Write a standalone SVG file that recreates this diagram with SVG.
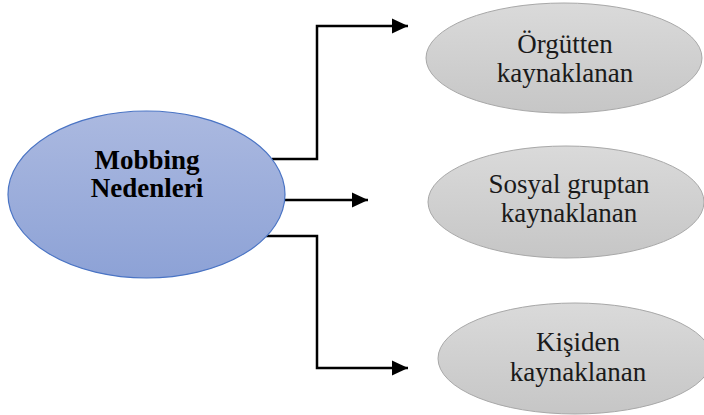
<svg xmlns="http://www.w3.org/2000/svg" width="704" height="415" viewBox="0 0 704 415">
<defs>
<linearGradient id="gBlue" x1="0" y1="0" x2="0" y2="1">
<stop offset="0" stop-color="#abb9e0"/>
<stop offset="1" stop-color="#8da2d6"/>
</linearGradient>
<linearGradient id="gGray" x1="0" y1="0" x2="0" y2="1">
<stop offset="0" stop-color="#dadada"/>
<stop offset="1" stop-color="#c6c6c6"/>
</linearGradient>
<marker id="arr" markerUnits="userSpaceOnUse" markerWidth="16" markerHeight="16" refX="16" refY="8" orient="auto">
<path d="M0,0.5 L16,8 L0,15.5 Z" fill="#000"/>
</marker>
</defs>
<style>
.main{fill:url(#gBlue);stroke:#4a74c4;stroke-width:1.2}
.leaf{fill:url(#gGray);stroke:#a8a8a8;stroke-width:1}
.conn{fill:none;stroke:#000;stroke-width:2.5;marker-end:url(#arr)}
.tb{font-family:"Liberation Serif","Times New Roman",serif;font-size:27px;font-weight:bold;fill:#000;text-anchor:middle}
.t{font-family:"Liberation Serif","Times New Roman",serif;font-size:27px;fill:#1a1a1a;text-anchor:middle}
</style>
<g id="connectors">
<path class="conn" d="M272,159 H317 V26 H408"/>
<path class="conn" d="M285,200 H368"/>
<path class="conn" d="M266,236 H317 V368 H408"/>
</g>
<g id="node-main">
<ellipse class="main" cx="146.5" cy="194.5" rx="138.5" ry="83.5"/>
<text class="tb" x="147" y="169">Mobbing</text>
<text class="tb" x="147" y="197">Nedenleri</text>
</g>
<g id="node-orgut">
<ellipse class="leaf" cx="564" cy="58" rx="138" ry="55"/>
<text class="t" x="565" y="53">Örgütten</text>
<text class="t" x="565" y="82">kaynaklanan</text>
</g>
<g id="node-sosyal">
<ellipse class="leaf" cx="566" cy="202" rx="138" ry="56"/>
<text class="t" x="569" y="193">Sosyal gruptan</text>
<text class="t" x="569" y="222">kaynaklanan</text>
</g>
<g id="node-kisi">
<ellipse class="leaf" cx="575" cy="358.5" rx="137" ry="55.5"/>
<text class="t" x="578" y="351">Kişiden</text>
<text class="t" x="578" y="381">kaynaklanan</text>
</g>
</svg>
